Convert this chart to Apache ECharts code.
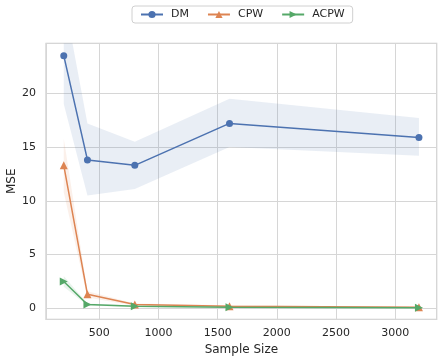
<!DOCTYPE html>
<html>
<head>
<meta charset="utf-8">
<script src="https://cdn.jsdelivr.net/npm/echarts@6/dist/echarts.min.js"></script>
<style>html,body{margin:0;padding:0;background:#fff}#c{width:444px;height:363px}</style>
</head>
<body>
<div id="c"></div>
<script>
const sampleSizes = [200, 400, 800, 1600, 3200];
const dmMean  = [23.5, 13.8, 13.3, 17.2, 15.9];
const dmLow   = [19.0, 10.5, 11.1, 15.0, 14.2];
const dmHigh  = [29.0, 17.2, 15.5, 19.5, 17.7];
const cpwMean = [13.3, 1.3, 0.35, 0.2, 0.1];
const cpwLow  = [10.8, 1.0, 0.25, 0.12, 0.05];
const cpwHigh = [15.8, 1.6, 0.45, 0.28, 0.15];
const acpwMean = [2.5, 0.35, 0.2, 0.1, 0.05];
const acpwLow  = [2.0, 0.25, 0.14, 0.06, 0.02];
const acpwHigh = [3.0, 0.45, 0.26, 0.14, 0.08];
const seriesNames = ['DM', 'CPW', 'ACPW'];
const colors = ['#4c72b0', '#dd8452', '#55a868'];
const bandFill = ['rgba(76,114,176,0.12)', 'rgba(221,132,82,0.12)', 'rgba(85,168,104,0.12)'];

const font = 'DejaVu Sans';
const pairs = arr => sampleSizes.map((x, i) => [x, arr[i]]);

const groups = [
  {name: 'DM', mean: dmMean, lo: dmLow, hi: dmHigh, symbol: 'circle', size: 7, rot: 0},
  {name: 'CPW', mean: cpwMean, lo: cpwLow, hi: cpwHigh, symbol: 'triangle', size: 8, rot: 0},
  {name: 'ACPW', mean: acpwMean, lo: acpwLow, hi: acpwHigh, symbol: 'triangle', size: 8, rot: -90}
];

const series = [];
groups.forEach((g, k) => {
  series.push({
    name: g.name + '_band', type: 'custom', silent: true, z: 1,
    data: sampleSizes.map((x, i) => [x, g.lo[i], g.hi[i]]),
    encode: {x: 0, y: [1, 2]},
    renderItem: function (params, api) {
      if (params.dataIndex !== 0) return null;
      const pts = [];
      for (let i = 0; i < sampleSizes.length; i++) pts.push(api.coord([sampleSizes[i], g.hi[i]]));
      for (let i = sampleSizes.length - 1; i >= 0; i--) pts.push(api.coord([sampleSizes[i], g.lo[i]]));
      const cs = params.coordSys;
      return {
        type: 'polygon',
        shape: {points: pts},
        style: {fill: bandFill[k], stroke: null},
        clipPath: {type: 'rect', shape: {x: cs.x, y: cs.y, width: cs.width, height: cs.height}}
      };
    }
  });
});
groups.forEach((g, k) => {
  series.push({
    name: g.name, type: 'line', data: pairs(g.mean),
    symbol: g.symbol, symbolSize: g.size, symbolRotate: g.rot, showSymbol: true,
    color: colors[k],
    itemStyle: {color: colors[k]},
    lineStyle: {color: colors[k], width: 1.5},
    z: 3, clip: true
  });
});

const chart = echarts.init(document.getElementById('c'), null, {renderer: 'canvas'});
chart.setOption({
  animation: false,
  backgroundColor: '#ffffff',
  textStyle: {fontFamily: font},
  legend: {
    data: seriesNames,
    top: 6, left: 132,
    padding: [3, 8],
    itemWidth: 22, itemHeight: 9, itemGap: 18,
    borderColor: '#d0d0d0', borderWidth: 1, borderRadius: 3,
    textStyle: {fontFamily: font, fontSize: 11, color: '#262626', padding: [0, 0, 0, 3]}
  },
  grid: {left: 46, right: 7.3, top: 43.3, bottom: 43.7, show: true, borderColor: '#cccccc', borderWidth: 1.2, containLabel: false, outerBoundsMode: 'none'},
  xAxis: {
    type: 'value', min: 50, max: 3350, splitNumber: 6,
    name: 'Sample Size', nameLocation: 'middle', nameGap: 25, nameMoveOverlap: false,
    nameTextStyle: {fontFamily: font, fontSize: 12, color: '#262626'},
    axisLine: {show: false}, axisTick: {show: false},
    axisLabel: {fontFamily: font, fontSize: 11, color: '#262626', margin: 8, showMinLabel: false, showMaxLabel: false,
      formatter: v => String(v)},
    splitLine: {show: true, lineStyle: {color: '#d6d6d6', width: 1}}
  },
  yAxis: {
    type: 'value', min: -1.02, max: 24.65, splitNumber: 5,
    name: 'MSE', nameLocation: 'middle', nameGap: 28, nameMoveOverlap: false,
    nameTextStyle: {fontFamily: font, fontSize: 12, color: '#262626'},
    axisLine: {show: false}, axisTick: {show: false},
    axisLabel: {fontFamily: font, fontSize: 11, color: '#262626', margin: 10, showMinLabel: false, showMaxLabel: false,
      formatter: v => String(v)},
    splitLine: {show: true, lineStyle: {color: '#d6d6d6', width: 1}}
  },
  series: series
});
</script>
</body>
</html>
